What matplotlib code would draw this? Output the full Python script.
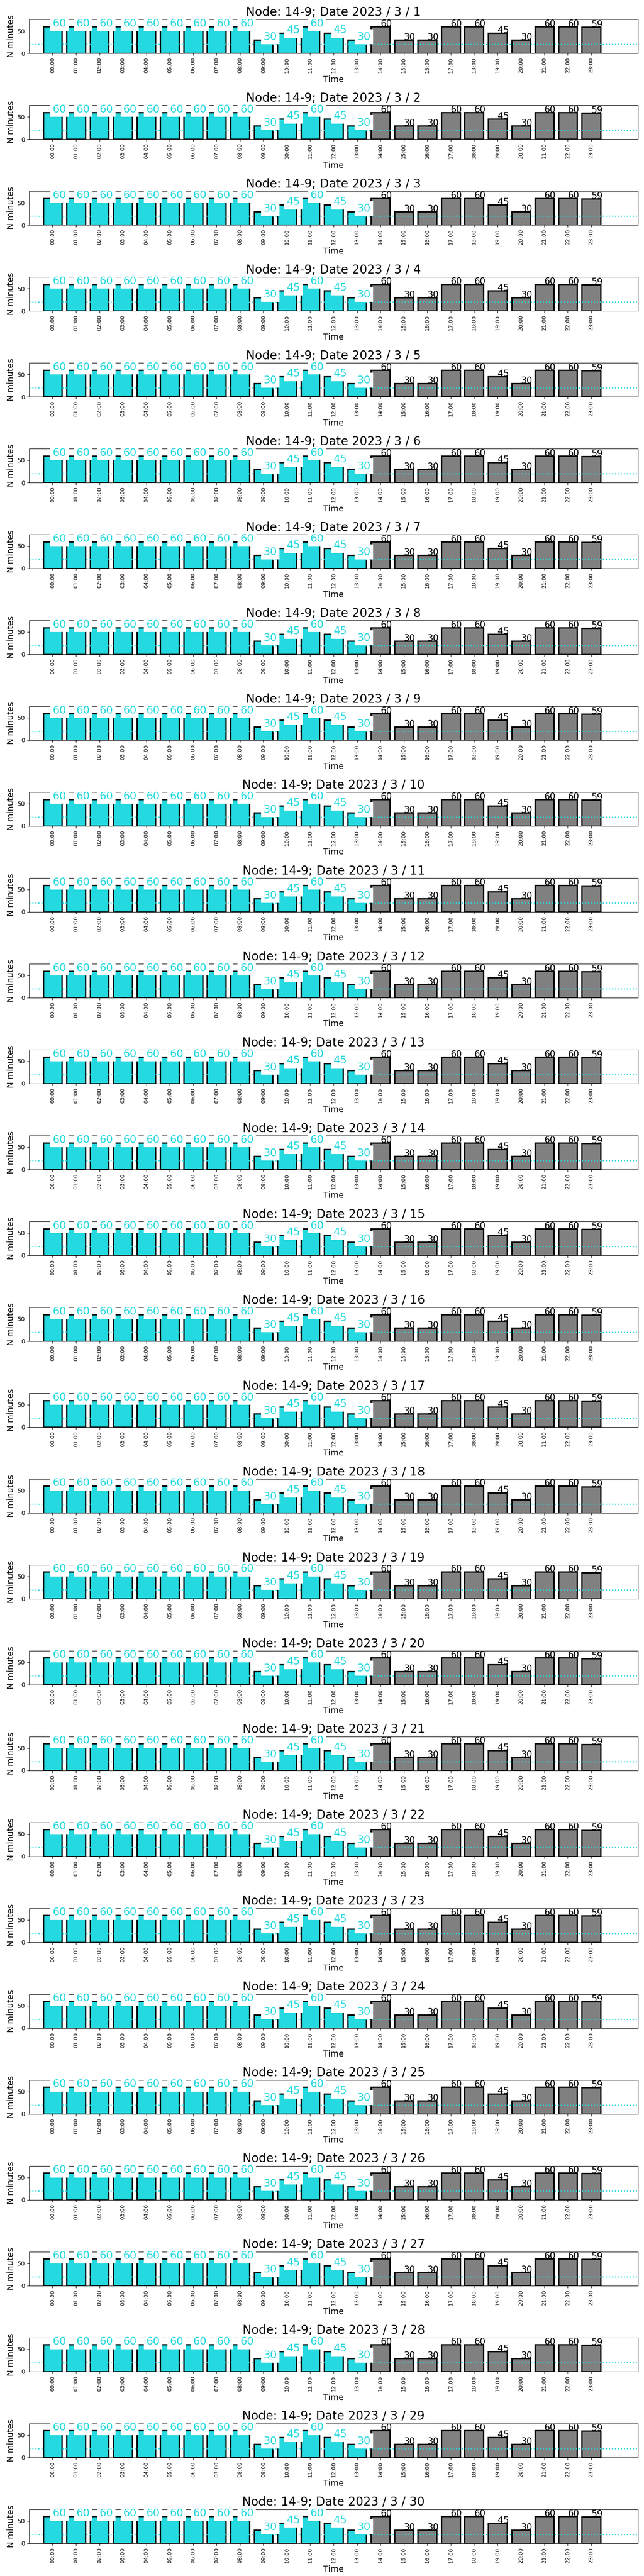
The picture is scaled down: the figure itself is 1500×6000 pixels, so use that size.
import numpy as np
import matplotlib
matplotlib.use("Agg")
import matplotlib.pyplot as plt

node = "14-9"
year = 2023
month = 3
days = list(range(1, 31))

hours = ["00:00", "01:00", "02:00", "03:00", "04:00", "05:00", "06:00", "07:00",
         "08:00", "09:00", "10:00", "11:00", "12:00", "13:00", "14:00", "15:00",
         "16:00", "17:00", "18:00", "19:00", "20:00", "21:00", "22:00", "23:00"]
minutes = [60, 60, 60, 60, 60, 60, 60, 60, 60, 30, 45, 60,
           45, 30, 60, 30, 30, 60, 60, 45, 30, 60, 60, 59]

threshold = 20
split_hour = 14  # bars before this hour are highlighted
cyan = "#24d9df"


def main():
    fig, axes = plt.subplots(len(days), 1, figsize=(15, 60), dpi=100)
    fig.subplots_adjust(left=0.0453, right=0.9907, top=0.9925,
                        bottom=0.0127, hspace=1.53)

    x = np.arange(len(hours))
    colors = [cyan if i < split_hour else "gray" for i in x]

    for ax, day in zip(axes, days):
        ax.bar(x, minutes, width=0.8, color=colors,
               edgecolor="black", linewidth=2.3)
        ax.axhline(threshold, color=cyan, linestyle=":", linewidth=1.9)

        for i, v in enumerate(minutes):
            if i < split_hour:
                ax.text(i, v, str(v), color=cyan, fontsize=18,
                        ha="left", va="baseline",
                        bbox=dict(facecolor="white", edgecolor="none", pad=4))
            else:
                ax.text(i, v, str(v), color="black", fontsize=15,
                        ha="left", va="baseline")

        ax.set_xlim(-1, 25)
        ax.set_ylim(0, 76)
        ax.set_yticks([0, 50])
        ax.set_xticks(x)
        ax.set_xticklabels(hours, rotation=90, fontsize=9)
        ax.set_xlabel("Time", fontsize=14)
        ax.set_ylabel("N minutes", fontsize=14)
        ax.set_title("Node: %s; Date %d / %d / %d" % (node, year, month, day),
                     fontsize=20)

    fig.savefig("out.png", dpi=100)


if __name__ == "__main__":
    main()
